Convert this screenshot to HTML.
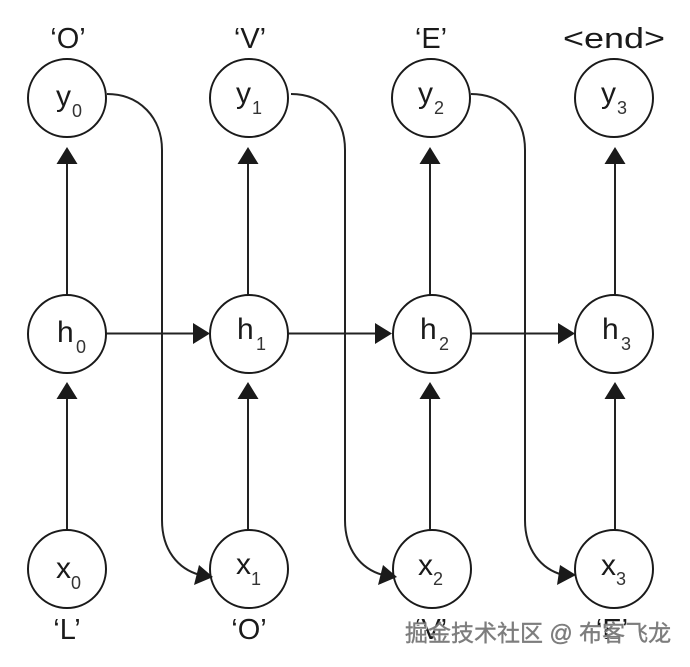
<!DOCTYPE html>
<html>
<head>
<meta charset="utf-8">
<style>
html,body{margin:0;padding:0;background:#fff;}
svg{display:block;}
text{font-family:"Liberation Sans","Noto Sans CJK SC",sans-serif;fill:#1a1a1a;}
.m{font-size:30px;}
.s{font-size:18px;fill:#333;}
.l{font-size:29px;text-anchor:middle;}
circle{fill:#fff;stroke:#1a1a1a;stroke-width:2;}
.c{fill:none;stroke:#222;stroke-width:2;}
.a{fill:#1a1a1a;stroke:none;}
</style>
</head>
<body>
<svg width="690" height="667" viewBox="0 0 690 667" xmlns="http://www.w3.org/2000/svg">
<rect width="690" height="667" fill="#fff"/>

<!-- vertical connectors -->
<path class="c" d="M67 530V395M67 295V160"/>
<path class="c" d="M248 530V395M248 295V160"/>
<path class="c" d="M430 530V395M430 295V160"/>
<path class="c" d="M615 530V395M615 295V160"/>
<path class="a" d="M67 147l10.500 17h-21zM67 382l10.500 17h-21z"/>
<path class="a" d="M248 147l10.500 17h-21zM248 382l10.500 17h-21z"/>
<path class="a" d="M430 147l10.500 17h-21zM430 382l10.500 17h-21z"/>
<path class="a" d="M615 147l10.500 17h-21zM615 382l10.500 17h-21z"/>

<!-- horizontal connectors -->
<path class="c" d="M106 333.500H195M288 333.500H377M471 333.500H560"/>
<path class="a" d="M210 333.500l-17-10.500v21zM392 333.500l-17-10.500v21zM575 333.500l-17-10.500v21z"/>

<!-- curved connectors -->
<path class="c" d="M107 94C140 94 162 118 162 150V520C162 550 178 569 200 575"/>
<path class="c" d="M291 94C324 94 345 118 345 150V520C345 550 361 569 383 575"/>
<path class="c" d="M471 94C504 94 525 118 525 150V520C525 550 541 569 563 575"/>

<!-- nodes -->
<circle cx="67" cy="98" r="39"/><circle cx="249" cy="98" r="39"/><circle cx="431" cy="98" r="39"/><circle cx="614" cy="98" r="39"/>
<circle cx="67" cy="334" r="39"/><circle cx="249" cy="334" r="39"/><circle cx="432" cy="334" r="39"/><circle cx="614" cy="334" r="39"/>
<circle cx="67" cy="569" r="39"/><circle cx="249" cy="569" r="39"/><circle cx="432" cy="569" r="39"/><circle cx="614" cy="569" r="39"/>

<!-- curved connector arrowheads, drawn over the nodes -->
<path class="a" d="M199 565L194 585L213 577z"/>
<path class="a" d="M383 565L378 585L397 577z"/>
<path class="a" d="M560 565L557 585L576 575z"/>

<!-- node labels -->
<text class="m" x="56" y="106">y</text><text class="s" x="72" y="117">0</text>
<text class="m" x="236" y="103">y</text><text class="s" x="252" y="114">1</text>
<text class="m" x="418" y="103">y</text><text class="s" x="434" y="114">2</text>
<text class="m" x="601" y="103">y</text><text class="s" x="617" y="114">3</text>

<text class="m" x="57" y="342">h</text><text class="s" x="76" y="353">0</text>
<text class="m" x="237" y="339">h</text><text class="s" x="256" y="350">1</text>
<text class="m" x="420" y="339">h</text><text class="s" x="439" y="350">2</text>
<text class="m" x="602" y="339">h</text><text class="s" x="621" y="350">3</text>

<text class="m" x="56" y="578">x</text><text class="s" x="71" y="589">0</text>
<text class="m" x="236" y="574">x</text><text class="s" x="251" y="585">1</text>
<text class="m" x="418" y="575">x</text><text class="s" x="433" y="585">2</text>
<text class="m" x="601" y="575">x</text><text class="s" x="616" y="585">3</text>

<!-- outer labels -->
<text class="l" x="68" y="48">‘O’</text>
<text class="l" x="250" y="48">‘V’</text>
<text class="l" x="431" y="48">‘E’</text>
<text x="563" y="48" font-size="29" textLength="102" lengthAdjust="spacingAndGlyphs">&lt;end&gt;</text>
<text class="l" x="67" y="639">‘L’</text>
<text class="l" x="249" y="639">‘O’</text>
<text class="l" x="431" y="639">‘V’</text>
<text class="l" x="612" y="639">‘E’</text>

<!-- watermark -->
<text x="406" y="642" font-size="23" style="fill:#fff;opacity:.85">掘金技术社区 @ 布客飞龙</text>
<text x="405" y="641" font-size="23" style="fill:#777;stroke:#777;stroke-width:.4;opacity:.95">掘金技术社区 @ 布客飞龙</text>
</svg>
</body>
</html>
